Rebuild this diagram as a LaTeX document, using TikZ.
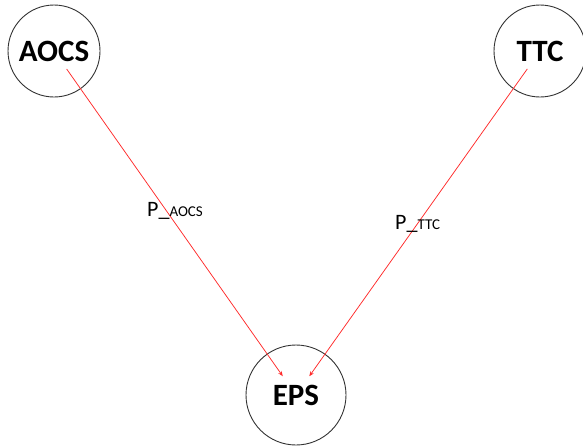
\documentclass[tikz,border=0pt]{standalone}
\usepackage{fontspec}
\setmainfont{Carlito}
\usetikzlibrary{arrows.meta}
\definecolor{linkred}{HTML}{FF2A2A}
\definecolor{ringgray}{HTML}{333333}
\begin{document}
\begin{tikzpicture}[x=1pt,y=-1pt,
  subsystem/.style={circle,draw=ringgray,line width=0.9pt,minimum size=92pt,inner sep=0pt,
    font=\fontsize{31}{31}\selectfont\bfseries},
  powerflow/.style={draw=linkred,line width=0.75pt,
    -{Stealth[length=5pt,width=4pt]},shorten <=22pt,shorten >=23pt},
  flowlabel/.style={anchor=base west,inner sep=0pt}]
  \useasboundingbox (0,0) rectangle (583,445);
  % subsystems
  \node[subsystem] (aocs) at (54,51) {AOCS};
  \node[subsystem] (ttc) at (540,51) {TTC};
  \node[subsystem,minimum size=100pt] (eps) at (296,395) {EPS};
  % power links to the EPS
  \draw[powerflow] (aocs.center) -- (eps.center);
  \draw[powerflow] (ttc.center) -- (eps.center);
  % link labels
  \node[flowlabel] (laocs) at (147,216)
    {{\fontsize{22}{22}\selectfont P\_}{\fontsize{15}{15}\selectfont AOCS}};
  \node[flowlabel] (lttc) at (395,229)
    {{\fontsize{22}{22}\selectfont P\_}{\fontsize{15}{15}\selectfont TTC}};
\end{tikzpicture}
\end{document}
